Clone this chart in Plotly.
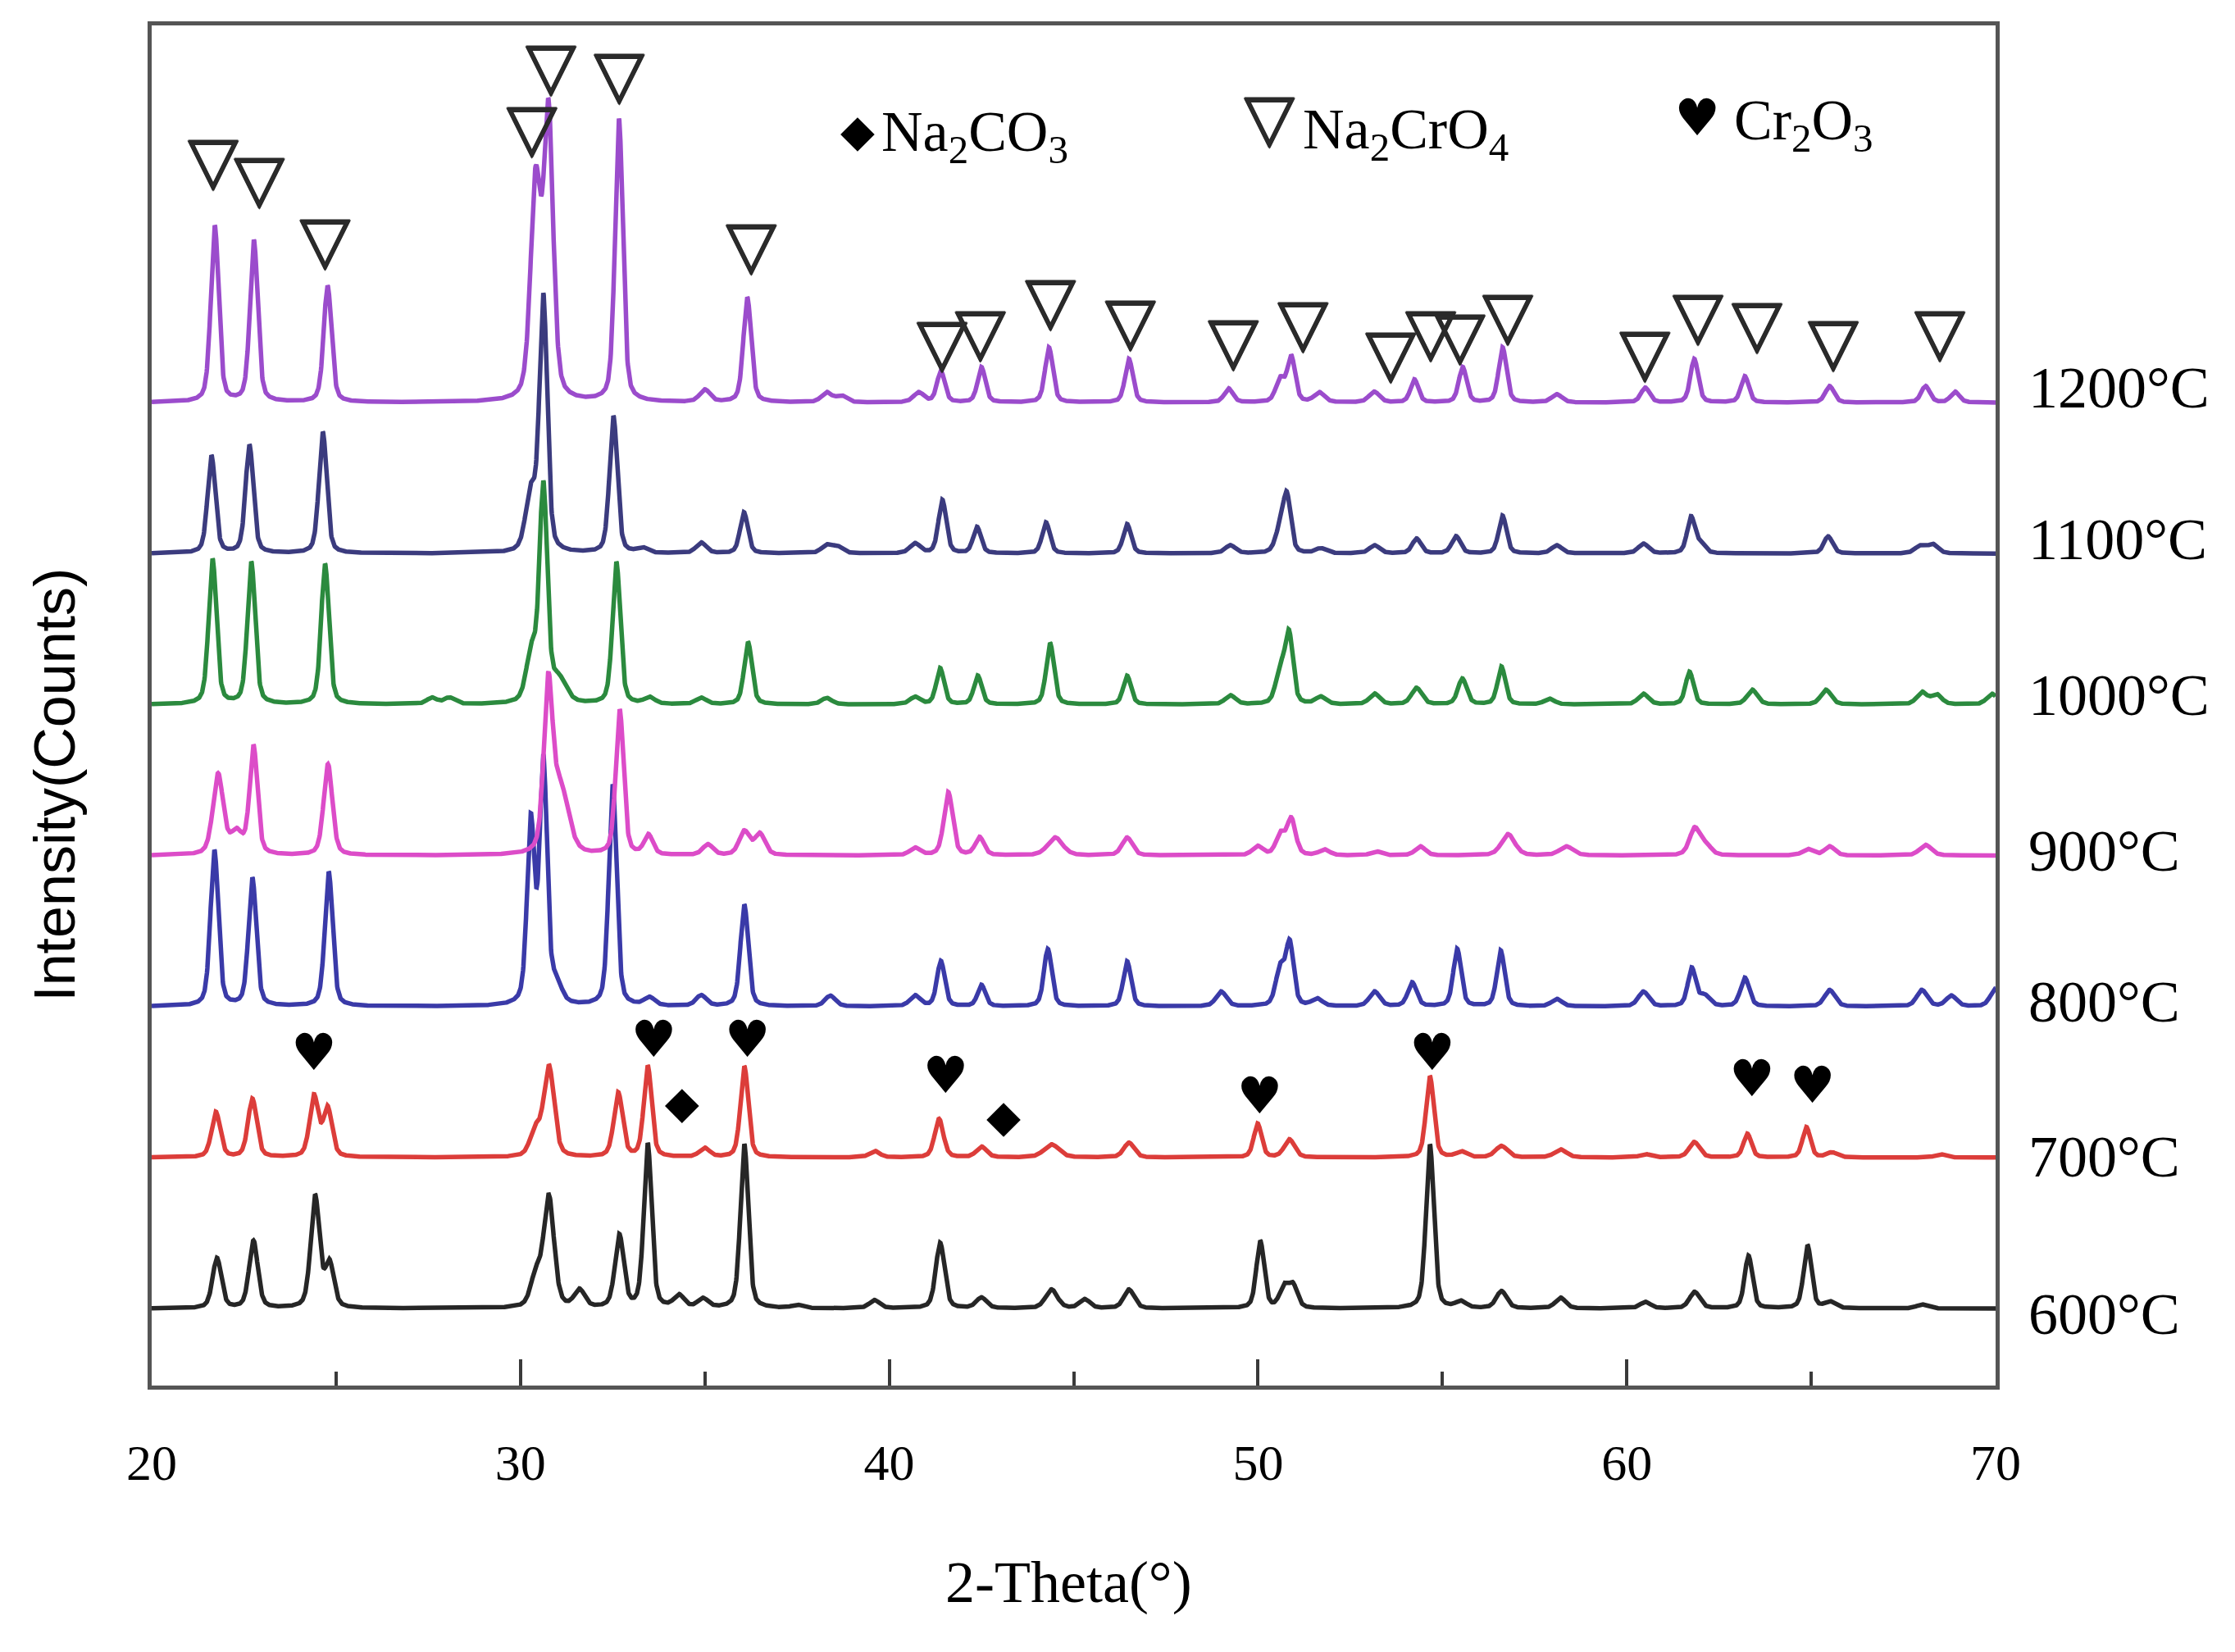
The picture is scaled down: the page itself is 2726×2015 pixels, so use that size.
import numpy as np
import plotly.graph_objects as go

# ---------------- data ----------------
X_RANGE = [20, 70]
Y_RANGE = [-510, 8498]
X_MAJOR_TICKS = [20, 30, 40, 50, 60, 70]
X_MINOR_TICKS = [25, 35, 45, 55, 65]

TEMPERATURES = ["600°C", "700°C", "800°C", "900°C", "1000°C", "1100°C", "1200°C"]
OFFSETS = [0, 1000, 2000, 3000, 4000, 5000, 6000]
LABEL_Y = [-38, 1005, 2031, 3030, 4062, 5093, 6098]
COLORS = ["#262626", "#dc3d3a", "#3a3aa8", "#dc4cc8", "#2b8a3e", "#3b3b7e", "#9b4ccc"]

# peak positions (2-theta), heights (counts above baseline), widths (deg FWHM)
POS_600 = [21.77, 22.76, 24.43, 24.82, 30.42, 30.77, 31.60, 32.68, 33.45, 34.30, 34.95, 36.07, 37.50, 39.60,
           41.38, 42.50, 44.40, 45.30, 46.50, 50.06, 50.70, 50.95, 54.66, 55.50, 56.60, 58.20, 60.50, 61.84,
           63.30, 64.90, 65.50, 68.00]
H_600 = [331, 445, 740, 290, 207, 730, 114, 478, 1086, 81, 60, 1086, 22, 54,
         434, 71, 125, 60, 125, 445, 136, 147, 1086, 43, 114, 71, 43, 109,
         348, 418, 43, 27]
W_600 = [0.28, 0.28, 0.28, 0.28, 0.33, 0.33, 0.33, 0.28, 0.25, 0.33, 0.33, 0.25, 0.33, 0.33,
         0.28, 0.33, 0.38, 0.33, 0.33, 0.25, 0.28, 0.28, 0.25, 0.33, 0.33, 0.33, 0.33, 0.33,
         0.25, 0.25, 0.33, 0.33]

POS_700 = [21.74, 22.73, 24.40, 24.77, 30.40, 30.77, 32.65, 33.45, 34.99, 36.07, 39.60, 41.35, 42.50, 44.40,
           46.50, 49.99, 50.85, 54.66, 55.50, 56.60, 58.20, 60.50, 61.83, 63.27, 64.87, 65.56, 68.50]
H_700 = [299, 386, 400, 320, 170, 600, 424, 603, 60, 603, 43, 255, 71, 87,
         98, 223, 119, 538, 38, 76, 54, 22, 103, 157, 201, 33, 22]
W_700 = [0.28, 0.28, 0.28, 0.28, 0.33, 0.33, 0.28, 0.25, 0.33, 0.25, 0.33, 0.28, 0.33, 0.48,
         0.33, 0.25, 0.33, 0.25, 0.33, 0.38, 0.38, 0.33, 0.33, 0.25, 0.25, 0.33, 0.33]

POS_800 = [21.70, 22.73, 24.80, 30.28, 30.62, 30.97, 32.50, 33.50, 34.90, 36.07, 38.40, 40.70, 41.40, 42.50,
           44.30, 46.45, 49.00, 50.60, 50.86, 51.60, 53.16, 54.18, 55.40, 56.58, 58.10, 60.45, 61.76, 62.10,
           63.20, 65.50, 68.00, 68.80, 70.00]
H_800 = [1032, 847, 891, 1200, 1600, 130, 1466, 54, 71, 673, 71, 71, 299, 141,
         380, 299, 98, 244, 407, 49, 98, 157, 380, 369, 49, 98, 250, 71,
         190, 109, 109, 71, 119]
W_800 = [0.25, 0.25, 0.25, 0.24, 0.24, 0.33, 0.25, 0.33, 0.33, 0.25, 0.33, 0.33, 0.25, 0.25,
         0.25, 0.25, 0.33, 0.28, 0.25, 0.33, 0.33, 0.28, 0.25, 0.25, 0.33, 0.33, 0.25, 0.33,
         0.28, 0.33, 0.33, 0.33, 0.33]

POS_900 = [21.80, 22.30, 22.76, 24.78, 30.75, 31.08, 32.69, 33.47, 35.08, 36.07, 36.49, 40.70, 41.60, 42.45,
           44.50, 46.45, 49.99, 50.60, 50.90, 51.80, 53.20, 54.40, 56.78, 58.36, 61.84, 62.15, 64.90, 65.50,
           68.10]
H_900 = [532, 141, 717, 603, 1060, 430, 960, 130, 71, 157, 141, 49, 418, 119,
         119, 119, 60, 136, 239, 38, 27, 60, 141, 60, 179, 65, 43, 60,
         71]
W_900 = [0.33, 0.38, 0.25, 0.28, 0.28, 0.52, 0.25, 0.28, 0.33, 0.33, 0.33, 0.33, 0.28, 0.28,
         0.48, 0.33, 0.33, 0.28, 0.28, 0.33, 0.33, 0.33, 0.43, 0.43, 0.33, 0.33, 0.33, 0.33,
         0.38]

POS_1000 = [21.65, 22.70, 24.70, 27.60, 28.07, 30.30, 30.62, 31.03, 32.60, 33.50, 34.90, 36.17, 38.30, 40.70,
            41.38, 42.40, 44.36, 46.45, 49.25, 50.60, 50.84, 51.70, 53.16, 54.30, 55.54, 56.60, 57.90, 60.45,
            61.70, 63.40, 65.40, 68.00, 68.40, 69.90]
H_1000 = [960, 940, 930, 43, 43, 326, 1412, 152, 940, 43, 43, 413, 43, 49,
          239, 190, 407, 190, 60, 217, 456, 49, 71, 109, 170, 250, 38, 71,
          217, 98, 98, 81, 65, 71]
W_1000 = [0.25, 0.25, 0.25, 0.33, 0.33, 0.33, 0.25, 0.48, 0.25, 0.33, 0.33, 0.25, 0.33, 0.33,
          0.25, 0.25, 0.25, 0.25, 0.33, 0.28, 0.25, 0.33, 0.33, 0.33, 0.28, 0.25, 0.33, 0.33,
          0.25, 0.33, 0.33, 0.33, 0.33, 0.33]

POS_1100 = [21.62, 22.65, 24.64, 30.28, 30.62, 32.52, 33.30, 34.90, 36.06, 38.30, 38.60, 40.70, 41.44, 42.38,
            44.25, 46.45, 49.25, 50.58, 50.78, 51.70, 53.16, 54.30, 55.37, 56.63, 58.10, 60.45, 61.74, 62.00,
            65.46, 67.95, 68.30]
H_1100 = [646, 717, 804, 380, 1683, 907, 33, 71, 272, 54, 43, 65, 353, 174,
          206, 195, 54, 130, 375, 33, 54, 98, 114, 250, 54, 65, 239, 60,
          114, 49, 60]
W_1100 = [0.25, 0.25, 0.25, 0.33, 0.25, 0.25, 0.33, 0.33, 0.25, 0.33, 0.33, 0.33, 0.25, 0.25,
          0.25, 0.25, 0.33, 0.28, 0.25, 0.33, 0.33, 0.28, 0.28, 0.25, 0.33, 0.33, 0.25, 0.28,
          0.28, 0.33, 0.33]

POS_1200 = [21.71, 22.77, 24.77, 30.41, 30.76, 32.67, 35.00, 36.15, 38.30, 38.70, 40.80, 41.40, 42.50, 44.33,
            46.50, 49.20, 50.60, 50.90, 51.66, 53.15, 54.24, 55.55, 56.63, 58.10, 60.50, 61.83, 63.20, 65.50,
            68.10, 68.90]
H_1200 = [1167, 1070, 771, 1420, 1880, 1873, 81, 695, 65, 43, 65, 206, 233, 364,
          288, 92, 150, 300, 65, 71, 152, 233, 364, 54, 98, 288, 174, 109,
          109, 71]
W_1200 = [0.25, 0.25, 0.25, 0.32, 0.30, 0.25, 0.33, 0.25, 0.33, 0.33, 0.33, 0.25, 0.25, 0.25,
          0.25, 0.28, 0.28, 0.25, 0.33, 0.33, 0.25, 0.25, 0.25, 0.33, 0.28, 0.25, 0.25, 0.28,
          0.28, 0.28]

# phase markers
TRI_X = [21.67, 22.92, 24.70, 30.31, 30.83, 32.68, 36.26, 41.43, 42.47, 44.37, 46.54, 49.33, 51.22,
         53.60, 54.68, 55.48, 56.77, 60.49, 61.93, 63.53, 65.60, 68.49]
TRI_Y = [7564, 7445, 7037, 7781, 8188, 8134, 7005, 6359, 6429, 6635, 6500, 6369, 6489,
         6288, 6429, 6407, 6538, 6293, 6538, 6483, 6364, 6429]
HEART_X = [24.40, 33.61, 36.15, 41.53, 50.04, 54.72, 63.39, 65.03]
HEART_Y = [1662, 1754, 1754, 1510, 1379, 1667, 1493, 1450]
DIAMOND_X = [34.38, 43.10]
DIAMOND_Y = [1341, 1249]

# key (legend) at the top
KEY_LABELS = ["Na<sub>2</sub>CO<sub>3</sub>", "Na<sub>2</sub>CrO<sub>4</sub>", "Cr<sub>2</sub>O<sub>3</sub>"]
KEY_SYMBOL_X = [39.14, 50.31, 61.91]
KEY_SYMBOL_Y = [7776, 7846, 7852]
KEY_TEXT_X = [39.74, 51.17, 62.86]
KEY_TEXT_Y = [7765, 7781, 7841]

SERIES = [
    (POS_600, H_600, W_600),
    (POS_700, H_700, W_700),
    (POS_800, H_800, W_800),
    (POS_900, H_900, W_900),
    (POS_1000, H_1000, W_1000),
    (POS_1100, H_1100, W_1100),
    (POS_1200, H_1200, W_1200),
]

GRID = np.round(np.arange(X_RANGE[0], X_RANGE[1] + 1e-9, 0.01), 2)


def pattern(pos, h, w, eta=0.4):
    y = np.zeros_like(GRID)
    for p, a, s in zip(pos, h, w):
        d = (GRID - p) / s
        y += a * (eta / (1 + 4 * d * d) + (1 - eta) * np.exp(-4 * np.log(2) * d * d))
    return y


fig = go.Figure()

for (pos, h, w), off, col, name in zip(SERIES, OFFSETS, COLORS, TEMPERATURES):
    fig.add_trace(go.Scatter(x=GRID, y=pattern(pos, h, w) + off, mode="lines",
                             line=dict(color=col, width=5.5), name=name, hoverinfo="skip"))

SERIF = "Liberation Serif"
SYM_FONT = "DejaVu Sans"
TRI_SHADOW = "1px 0 0 #2a2a2a, -1px 0 0 #2a2a2a, 0 1px 0 #2a2a2a, 0 -1px 0 #2a2a2a"

fig.add_trace(go.Scatter(x=TRI_X, y=TRI_Y, mode="text", text=["▽"] * len(TRI_X),
                         textposition="middle center", cliponaxis=False,
                         textfont=dict(family=SYM_FONT, size=80, color="#2a2a2a", weight="bold",
                                       shadow=TRI_SHADOW)))
fig.add_trace(go.Scatter(x=HEART_X, y=HEART_Y, mode="text", text=["♥"] * len(HEART_X),
                         textposition="middle center", cliponaxis=False,
                         textfont=dict(family=SYM_FONT, size=62, color="#000000")))
fig.add_trace(go.Scatter(x=DIAMOND_X, y=DIAMOND_Y, mode="markers", cliponaxis=False,
                         marker=dict(symbol="diamond", size=32, color="#000000", line=dict(width=0))))

# key symbols
fig.add_trace(go.Scatter(x=[KEY_SYMBOL_X[0]], y=[KEY_SYMBOL_Y[0]], mode="markers",
                         marker=dict(symbol="diamond", size=32, color="#000000", line=dict(width=0))))
fig.add_trace(go.Scatter(x=[KEY_SYMBOL_X[1]], y=[KEY_SYMBOL_Y[1]], mode="text", text=["▽"],
                         textposition="middle center",
                         textfont=dict(family=SYM_FONT, size=80, color="#2a2a2a", weight="bold",
                                       shadow=TRI_SHADOW)))
fig.add_trace(go.Scatter(x=[KEY_SYMBOL_X[2]], y=[KEY_SYMBOL_Y[2]], mode="text", text=["♥"],
                         textposition="middle center",
                         textfont=dict(family=SYM_FONT, size=62, color="#000000")))

annotations = []
for lab, kx, ky in zip(KEY_LABELS, KEY_TEXT_X, KEY_TEXT_Y):
    annotations.append(dict(x=kx, y=ky, xref="x", yref="y", text=lab, showarrow=False,
                            xanchor="left", yanchor="middle",
                            font=dict(family=SERIF, size=70, color="#000000")))
for lab, ly in zip(TEMPERATURES, LABEL_Y):
    annotations.append(dict(x=1.017, y=ly, xref="paper", yref="y", text=lab, showarrow=False,
                            xanchor="left", yanchor="middle",
                            font=dict(family=SERIF, size=72, color="#000000")))
annotations.append(dict(x=0.4975, y=-0.1447, xref="paper", yref="paper", text="2-Theta(°)",
                        showarrow=False, xanchor="center", yanchor="middle",
                        font=dict(family=SERIF, size=72, color="#000000")))
annotations.append(dict(x=-0.0526, y=0.4418, xref="paper", yref="paper", text="Intensity(Counts)",
                        showarrow=False, xanchor="center", yanchor="middle", textangle=-90,
                        font=dict(family="Liberation Sans", size=70, color="#000000")))

fig.update_layout(
    width=2726, height=2015,
    margin=dict(l=185, r=292, t=31, b=325),
    paper_bgcolor="white", plot_bgcolor="white",
    showlegend=False,
    annotations=annotations,
    xaxis=dict(range=X_RANGE, tickvals=X_MAJOR_TICKS, ticks="inside", ticklen=32, tickwidth=4,
               tickcolor="#3a3a3a", showline=True, linewidth=5, linecolor="#555555", mirror=True,
               showgrid=False, zeroline=False, ticklabelstandoff=36,
               tickfont=dict(family=SERIF, size=62, color="#000000"),
               minor=dict(tickvals=X_MINOR_TICKS, ticks="inside", ticklen=17, tickwidth=4,
                          tickcolor="#3a3a3a", showgrid=False)),
    yaxis=dict(range=Y_RANGE, showticklabels=False, ticks="", showline=True, linewidth=5,
               linecolor="#555555", mirror=True, showgrid=False, zeroline=False),
)

fig.write_html("out.html")
